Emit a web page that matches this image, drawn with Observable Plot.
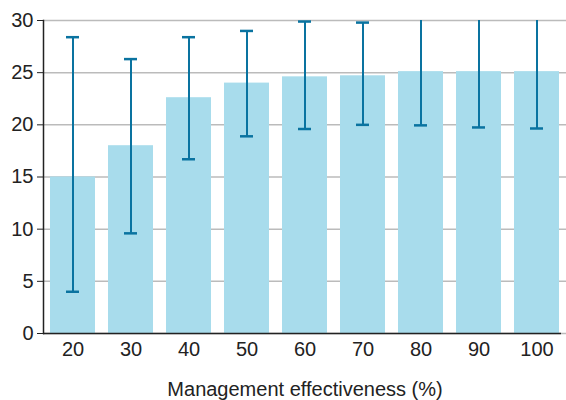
<!DOCTYPE html>
<html>
<head>
<meta charset="utf-8">
<script src="https://cdn.jsdelivr.net/npm/d3@7"></script>
<script src="https://cdn.jsdelivr.net/npm/@observablehq/plot@0.6"></script>
<style>
  html, body { margin: 0; padding: 0; background: #fff; }
</style>
</head>
<body>
<div id="chart"></div>
<script>
const effectiveness = [20, 30, 40, 50, 60, 70, 80, 90, 100];
const meanValue = [15.0, 18.0, 22.6, 24.0, 24.6, 24.7, 25.1, 25.1, 25.1];
const lowerValue = [4.0, 9.6, 16.7, 18.9, 19.6, 20.0, 19.95, 19.75, 19.65];
const upperValue = [28.4, 26.3, 28.4, 29.0, 29.9, 29.8, 30.3, 30.4, 30.5];
const yTicks = [0, 5, 10, 15, 20, 25, 30];

const data = effectiveness.map((e, i) => ({
  eff: String(e), mean: meanValue[i], lo: lowerValue[i], hi: upperValue[i]
}));

const errColor = "#0a73a0";

const chart = Plot.plot({
  width: 566,
  height: 400,
  marginLeft: 43,
  marginRight: 0,
  marginTop: 20,
  marginBottom: 67,
  style: { fontFamily: "'Liberation Sans', Arial, sans-serif", fontSize: "20px", color: "#222", background: "#fff" },
  x: { domain: effectiveness.map(String), paddingInner: 0.23, paddingOuter: 0.1 },
  y: { domain: [0, 30] },
  marks: [
    Plot.gridY(yTicks, { stroke: "#bbb", strokeOpacity: 1, strokeWidth: 1.5 }),
    Plot.barY(data, { x: "eff", y: "mean", fill: "#a8dcec" }),
    Plot.ruleX(data, { x: "eff", y1: "lo", y2: "hi", stroke: errColor, strokeWidth: 2, clip: true }),
    Plot.tickY(data, { x: "eff", y: "lo", stroke: errColor, strokeWidth: 2.5, insetLeft: 16, insetRight: 16, clip: true }),
    Plot.tickY(data, { x: "eff", y: "hi", stroke: errColor, strokeWidth: 2.5, insetLeft: 16, insetRight: 16, clip: true }),
    Plot.ruleY([0], { stroke: "#222", strokeWidth: 1.5, insetRight: 5 }),
    Plot.frame({ anchor: "left", stroke: "#222", strokeWidth: 1.5 }),
    Plot.axisY(yTicks, { label: null, tickSize: 6, tickPadding: 4, fontSize: 20, stroke: "#222", fill: "#222" }),
    Plot.axisX({ label: "Management effectiveness (%)", labelAnchor: "center", labelOffset: 62, tickSize: 0, tickPadding: 8, fontSize: 20, fill: "#222" })
  ]
});
document.getElementById("chart").appendChild(chart);
</script>
</body>
</html>
